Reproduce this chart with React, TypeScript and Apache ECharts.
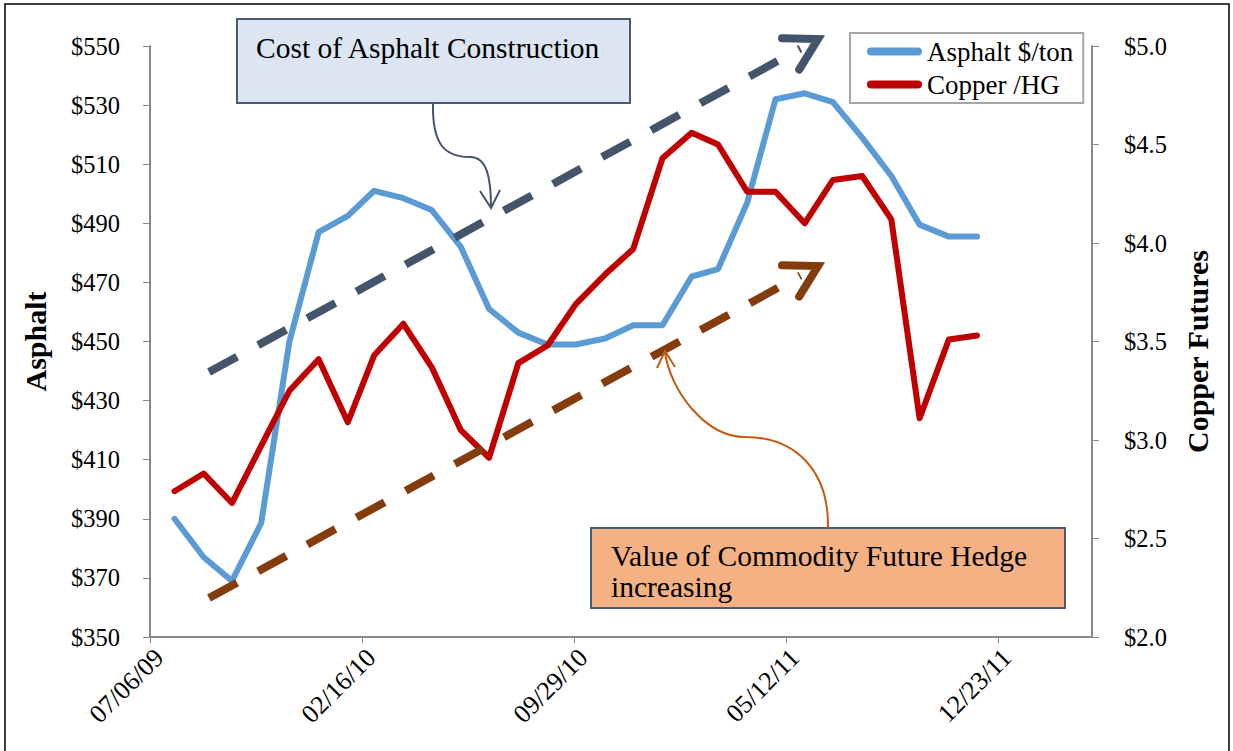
import React, { useEffect, useRef } from "react";
import * as echarts from "echarts";

// Observation dates (monthly)
const dates = [
  "2009-08-01", "2009-09-01", "2009-10-01", "2009-11-01", "2009-12-01", "2010-01-01",
  "2010-02-01", "2010-03-01", "2010-04-01", "2010-05-01", "2010-06-01", "2010-07-01",
  "2010-08-01", "2010-09-01", "2010-10-01", "2010-11-01", "2010-12-01", "2011-01-01",
  "2011-02-01", "2011-03-01", "2011-04-01", "2011-05-01", "2011-06-01", "2011-07-01",
  "2011-08-01", "2011-09-01", "2011-10-01", "2011-11-01", "2011-12-01",
];
// Asphalt $/ton (left axis)
const asphalt = [
  390, 377, 369, 388.5, 450, 487, 492.5, 501, 498.5, 494.5, 482, 461, 453, 449, 449,
  451, 455.5, 455.5, 472, 474.5, 497, 532, 534, 531, 519, 506, 489.5, 485.5, 485.5,
];
// Copper /HG (right axis)
const copper = [
  2.74, 2.83, 2.68, 2.97, 3.25, 3.41, 3.09, 3.43, 3.59, 3.37, 3.05, 2.91, 3.39, 3.48, 3.69,
  3.84, 3.97, 4.43, 4.56, 4.5, 4.26, 4.26, 4.1, 4.32, 4.34, 4.12, 3.11, 3.51, 3.53,
];
// X axis tick labels (dates every 225 days, Excel serials 40000..40900)
const xTickLabels = ["07/06/09", "02/16/10", "09/29/10", "05/12/11", "12/23/11"];
const seriesNames = ["Asphalt $/ton", "Copper /HG"];
const noteTop = "Cost of Asphalt Construction";
const noteBottom = ["Value of Commodity Future Hedge", "increasing"];
const leftTitle = "Asphalt";
const rightTitle = "Copper Futures";

const FONT = "'Liberation Serif', 'Times New Roman', serif";
const X_MIN = 40000;
const X_MAX = 41000;
const X_STEP = 225;
const X_TICKS = xTickLabels.map((_, i) => X_MIN + i * X_STEP);

function toSerial(s: string): number {
  const [y, m, d] = s.split("-").map(Number);
  return Math.round((Date.UTC(y, m - 1, d) - Date.UTC(1899, 11, 30)) / 86400000);
}
function serialToLabel(v: number): string {
  const idx = Math.round((v - X_MIN) / X_STEP);
  if (Math.abs(v - (X_MIN + idx * X_STEP)) < 1e-6 && idx >= 0 && idx < xTickLabels.length) {
    return xTickLabels[idx];
  }
  return "";
}

function arrowHead(tipX: number, tipY: number, dx: number, dy: number, len: number, spread: number) {
  const ang = Math.atan2(-dy, -dx);
  const a1 = ang + spread;
  const a2 = ang - spread;
  return [
    [tipX + Math.cos(a1) * len, tipY + Math.sin(a1) * len],
    [tipX, tipY],
    [tipX + Math.cos(a2) * len, tipY + Math.sin(a2) * len],
  ];
}

export default function App() {
  const ref = useRef<HTMLDivElement>(null);
  useEffect(() => {
    document.body.style.margin = "0";
    if (!ref.current) return;
    const chart = echarts.init(ref.current, undefined, { renderer: "svg" });
    const xs = dates.map(toSerial);
    const axisGray = "#898989";
    const slate = "#44546a";
    const brown = "#843c0c";
    const orange = "#c55a11";

    // dashed trend arrows
    const d1 = { x1: 209, y1: 372, x2: 818, y2: 39 };
    const d2 = { x1: 209, y1: 598, x2: 818, y2: 266 };
    const mkDashed = (d: any, color: string) => {
      const dx = d.x2 - d.x1;
      const dy = d.y2 - d.y1;
      const L = Math.hypot(dx, dy);
      const ux = dx / L, uy = dy / L;
      const endX = d.x2 - ux * 20, endY = d.y2 - uy * 20;
      return [
        {
          type: "line", z: 20,
          shape: { x1: d.x1, y1: d.y1, x2: endX, y2: endY },
          style: { stroke: color, lineWidth: 8, lineDash: [32, 24], lineCap: "butt" },
        },
        {
          type: "polyline", z: 20,
          shape: { points: arrowHead(d.x2, d.y2, dx, dy, 36, 0.52) },
          style: { stroke: color, lineWidth: 8, fill: "none", lineJoin: "miter", lineCap: "round" },
        },
      ];
    };

    chart.setOption({
      animation: false,
      backgroundColor: "#ffffff",
      textStyle: { fontFamily: FONT },
      grid: { left: 150, top: 46, width: 942, height: 591, containLabel: false },
      legend: {
        orient: "vertical",
        left: 850,
        top: 33,
        padding: [5, 10, 5, 17],
        itemGap: 6,
        itemWidth: 55,
        itemHeight: 8,
        borderColor: "#a6a6a6",
        borderWidth: 2,
        icon: "path://M4,0 H51 A4,4 0 0 1 51,8 H4 A4,4 0 0 1 4,0 Z",
        textStyle: { fontFamily: FONT, fontSize: 27, color: "#000" },
        data: seriesNames,
      },
      xAxis: {
        type: "value",
        min: X_MIN,
        max: X_MAX,
        interval: X_STEP,
        splitLine: { show: false },
        axisLine: { show: true, lineStyle: { color: axisGray, width: 2 } },
        axisTick: { show: true, length: 6, lineStyle: { color: axisGray, width: 1 }, customValues: X_TICKS },
        axisLabel: {
          rotate: 45,
          margin: 7,
          fontFamily: FONT,
          fontSize: 26,
          color: "#000",
          verticalAlign: "top",
          customValues: X_TICKS,
          formatter: (v: number) => serialToLabel(v),
        },
      },
      yAxis: [
        {
          type: "value",
          min: 350,
          max: 550,
          interval: 20,
          position: "left",
          name: leftTitle,
          nameLocation: "middle",
          nameRotate: 90,
          nameGap: 100,
          nameTextStyle: { fontFamily: FONT, fontSize: 30, fontWeight: "bold", color: "#000" },
          splitLine: { show: false },
          axisLine: { show: true, lineStyle: { color: axisGray, width: 2 } },
          axisTick: { show: true, length: 7, lineStyle: { color: axisGray, width: 1 } },
          axisLabel: { margin: 30, fontFamily: FONT, fontSize: 24.5, color: "#000", formatter: (v: number) => "$" + v },
        },
        {
          type: "value",
          min: 2,
          max: 5,
          interval: 0.5,
          position: "right",
          name: rightTitle,
          nameLocation: "middle",
          nameRotate: 90,
          nameGap: 90,
          nameTextStyle: { fontFamily: FONT, fontSize: 30, fontWeight: "bold", color: "#000", padding: [0, 20, 0, 0] },
          splitLine: { show: false },
          axisLine: { show: true, lineStyle: { color: axisGray, width: 2 } },
          axisTick: { show: true, length: 7, lineStyle: { color: axisGray, width: 1 } },
          axisLabel: { margin: 32, fontFamily: FONT, fontSize: 24.5, color: "#000", formatter: (v: number) => "$" + v.toFixed(1) },
        },
      ],
      series: [
        {
          name: seriesNames[0],
          type: "line",
          yAxisIndex: 0,
          data: xs.map((x, i) => [x, asphalt[i]]),
          symbol: "none",
          color: "#5b9bd5",
          lineStyle: { width: 6, color: "#5b9bd5", cap: "round", join: "round" },
          z: 3,
        },
        {
          name: seriesNames[1],
          type: "line",
          yAxisIndex: 1,
          data: xs.map((x, i) => [x, copper[i]]),
          symbol: "none",
          color: "#c00000",
          lineStyle: { width: 6, color: "#c00000", cap: "round", join: "round" },
          z: 4,
        },
      ],
      graphic: [
        {
          type: "rect", z: 1,
          shape: { x: 5, y: 4, width: 1224, height: 760 },
          style: { fill: "none", stroke: "#000", lineWidth: 1.5 },
        },
        ...mkDashed(d1, slate),
        ...mkDashed(d2, brown),
        {
          type: "rect", z: 30,
          shape: { x: 237, y: 19, width: 393, height: 84 },
          style: { fill: "#dce6f2", stroke: "#4b5a73", lineWidth: 2 },
        },
        {
          type: "text", z: 31, x: 256, y: 47.5,
          style: { text: noteTop, font: `29.5px ${FONT}`, fill: "#000", verticalAlign: "middle", align: "left" },
        },
        {
          type: "bezierCurve", z: 30,
          shape: { x1: 433, y1: 103, cpx1: 432, cpy1: 145, cpx2: 445, cpy2: 157, x2: 470, y2: 157 },
          style: { stroke: slate, lineWidth: 2, fill: "none" },
        },
        {
          type: "bezierCurve", z: 30,
          shape: { x1: 470, y1: 157, cpx1: 487, cpy1: 157, cpx2: 491, cpy2: 178, x2: 491, y2: 207 },
          style: { stroke: slate, lineWidth: 2, fill: "none" },
        },
        {
          type: "polyline", z: 30,
          shape: { points: [[480, 191], [491, 208], [500, 190]] },
          style: { stroke: slate, lineWidth: 2, fill: "none" },
        },
        {
          type: "rect", z: 30,
          shape: { x: 591, y: 528, width: 474, height: 80 },
          style: { fill: "#f4b183", stroke: "#4b5a73", lineWidth: 2 },
        },
        {
          type: "text", z: 31, x: 611, y: 555.5,
          style: { text: noteBottom[0], font: `29.5px ${FONT}`, fill: "#000", verticalAlign: "middle", align: "left" },
        },
        {
          type: "text", z: 31, x: 611, y: 587,
          style: { text: noteBottom[1], font: `29.5px ${FONT}`, fill: "#000", verticalAlign: "middle", align: "left" },
        },
        {
          type: "bezierCurve", z: 30,
          shape: { x1: 828, y1: 528, cpx1: 829, cpy1: 470, cpx2: 795, cpy2: 437, x2: 745, y2: 437 },
          style: { stroke: orange, lineWidth: 2, fill: "none" },
        },
        {
          type: "bezierCurve", z: 30,
          shape: { x1: 745, y1: 437, cpx1: 705, cpy1: 437, cpx2: 670, cpy2: 390, x2: 665, y2: 352 },
          style: { stroke: orange, lineWidth: 2, fill: "none" },
        },
        {
          type: "polyline", z: 30,
          shape: { points: [[657, 368], [665, 351], [675, 367]] },
          style: { stroke: orange, lineWidth: 2, fill: "none" },
        },
      ],
    });
    return () => chart.dispose();
  }, []);
  return <div ref={ref} style={{ width: 1233, height: 751 }} />;
}
